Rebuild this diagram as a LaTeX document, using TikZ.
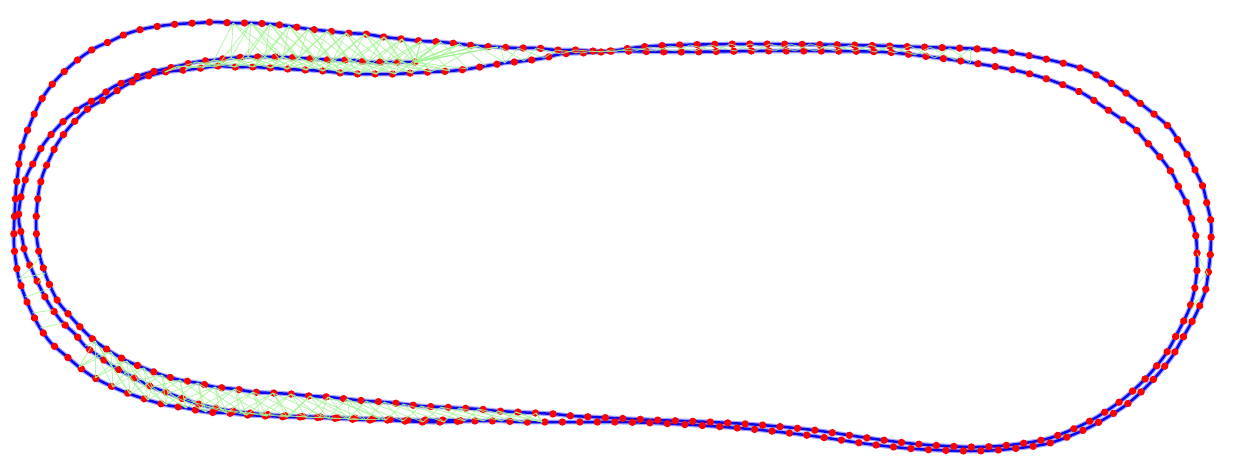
\documentclass[tikz,border=0pt]{standalone}
\usetikzlibrary{decorations.markings}
\definecolor{poseblue}{RGB}{8,8,240}
\definecolor{posered}{RGB}{255,0,0}
\definecolor{loopgreen}{RGB}{165,245,150}
\tikzset{
  trajhalo/.style={draw=poseblue!50, line width=4.8pt, opacity=0.7, line join=round},
  traj/.style={draw=poseblue, line width=2.5pt, line join=round},
  posedots/.style={decorate, decoration={markings, mark=between positions 0 and 1 step 17.5pt with {\fill[posered] (0,0) circle (3.7pt);}}},
  closure/.style={draw=loopgreen, line width=0.85pt, opacity=0.8},
}
\newcommand\namepts[2]{\foreach \p [count=\k] in {#2} {\path \p coordinate (#1-\k);}}
\newcommand\lapA[1]{\path[#1] plot[smooth cycle] coordinates {(611,51) (593,51) (575,50) (556,50) (536,48) (516,48) (498,47) (478,46) (460,44) (441,42) (421,41) (402,39) (384,37) (365,34) (346,33) (327,31) (308,29) (289,26) (270,24) (251,23) (233,23) (214,22) (196,23) (178,24) (160,26) (143,29) (126,34) (111,41) (95,48) (80,58) (67,69) (55,81) (45,94) (37,108) (30,124) (24,140) (20,156) (18,172) (16,189) (15,207) (14,227) (14,245) (16,263) (19,279) (25,297) (32,313) (40,328) (51,343) (65,355) (79,367) (95,378) (113,387) (130,394) (148,400) (166,405) (186,408) (206,412) (227,413) (247,415) (267,416) (287,417) (306,417) (328,418) (348,419) (366,420) (386,420) (403,421) (423,422) (444,422) (465,421) (484,421) (502,421) (522,422) (542,422) (560,422) (579,422) (598,422) (617,422) (655,423) (710,426) (761,430) (813,436) (868,444) (916,449) (971,451) (1010,449) (1050,443) (1090,427) (1126,405) (1151,382) (1171,358) (1185,334) (1196,314) (1205,292) (1208,275) (1210,258) (1211,240) (1211,222) (1207,204) (1203,187) (1196,172) (1188,156) (1179,142) (1169,127) (1145,107) (1117,87) (1086,70) (1050,60) (1014,53) (979,49) (920,47) (850,45) (750,44) (678,45) (640,47)};}
\newcommand\lapB[1]{\path[#1] plot[smooth] coordinates {(415,62) (401,62) (386,62) (368,62) (350,60) (333,60) (316,59) (299,58) (283,57) (265,57) (248,57) (231,58) (214,60) (196,62) (178,66) (160,70) (144,74) (129,80) (113,87) (99,97) (81,107) (67,118) (55,130) (43,145) (35,160) (27,175) (22,192) (19,210) (19,222) (22,237) (25,253) (31,268) (38,283) (45,297) (53,310) (63,323) (75,334) (85,346) (97,355) (111,365) (125,373) (138,380) (152,387) (168,393) (184,399) (202,405) (220,409) (240,412) (260,414) (290,416) (320,417) (350,418) (380,419) (410,420) (440,420) (470,421)};}
\newcommand\lapC[1]{\path[#1] plot[smooth cycle] coordinates {(617,51) (601,52) (581,53) (561,54) (544,58) (524,61) (505,63) (486,66) (468,69) (450,71) (431,72) (412,73) (395,74) (376,74) (359,74) (341,73) (323,71) (306,70) (287,69) (271,68) (253,67) (235,67) (217,66) (202,68) (185,70) (165,72) (145,77) (128,84) (115,92) (103,100) (89,108) (77,119) (67,130) (57,144) (50,158) (43,174) (39,190) (37,207) (36,223) (37,240) (40,257) (45,273) (51,288) (59,303) (71,317) (83,330) (95,341) (111,352) (127,361) (144,368) (162,375) (180,380) (198,383) (215,387) (235,389) (253,392) (273,393) (291,394) (310,396) (328,397) (347,399) (366,401) (384,402) (403,404) (421,406) (441,407) (459,408) (478,409) (498,411) (516,412) (536,413) (554,414) (573,416) (593,417) (613,418) (655,420) (710,422) (761,425) (813,430) (868,438) (916,444) (971,447) (1010,445) (1050,438) (1090,421) (1122,400) (1146,378) (1165,355) (1178,332) (1188,312) (1192,300) (1195,287) (1197,270) (1197,253) (1196,237) (1192,220) (1187,204) (1180,190) (1173,175) (1164,162) (1154,150) (1143,138) (1133,127) (1105,108) (1082,93) (1050,80) (1014,70) (967,62) (931,57) (884,52) (820,51) (750,51) (680,52)};}
\begin{document}
\begin{tikzpicture}[x=1pt,y=-1pt]
\fill[white] (0,0) rectangle (1235,463);
\path[use as bounding box] (0,0) rectangle (1235,463);
% trajectory
\lapA{trajhalo} \lapB{trajhalo} \lapC{trajhalo}
\lapA{traj} \lapB{traj} \lapC{traj}
\lapA{posedots} \lapB{posedots} \lapC{posedots}
% named poses used by loop closures
\namepts{gT1}{(196,23),(214,22),(233,23),(251,23),(270,24),(289,26),(308,29),(327,31),(346,33),(365,34),(384,37),(402,39),(421,41),(441,42),(460,44),(478,46),(498,47),(516,48),(536,48),(556,50)}
\namepts{gT2}{(160,70),(178,66),(196,62),(214,60),(231,58),(248,57),(265,57),(283,57),(299,58),(316,59),(333,60),(350,60),(368,62),(386,62),(401,62),(415,62)}
\namepts{gT3}{(165,72),(185,70),(202,68),(217,66),(235,67),(253,67),(271,68),(287,69),(306,70),(323,71),(341,73),(359,74),(376,74),(395,74),(412,73),(431,72),(450,71),(468,69),(486,66),(505,63),(524,61),(544,58)}
\namepts{gU}{(500,47),(518,48),(536,48),(556,50),(575,50),(593,51),(611,50),(630,48),(650,47),(670,46),(690,45),(710,45),(730,44),(750,44),(770,44),(790,44),(810,44),(830,45),(850,45),(870,45),(890,46),(910,46),(930,47),(950,48),(970,49)}
\namepts{gL}{(505,63),(524,61),(544,58),(561,54),(581,53),(601,52),(617,51),(635,51),(655,51),(675,51),(695,51),(715,51),(735,51),(755,51),(775,51),(795,51),(815,51),(835,51),(855,51),(875,52),(895,53),(915,55),(935,58),(955,60),(970,63)}
\namepts{gB1}{(79,367),(95,378),(113,387),(130,394),(148,400),(166,405),(186,408),(206,412),(227,413),(247,415),(267,416),(287,417),(306,417),(328,418),(348,419),(366,420),(386,420),(403,421),(423,422),(444,422),(465,421),(484,421),(502,421),(522,422),(542,422)}
\namepts{gB2}{(85,346),(97,355),(111,365),(125,373),(138,380),(152,387),(168,393),(184,399),(202,405),(220,409),(240,412),(260,414),(290,416),(320,417),(350,418),(380,419)}
\namepts{gB3}{(83,330),(95,341),(111,352),(127,361),(144,368),(162,375),(180,380),(198,383),(215,387),(235,389),(253,392),(273,393),(291,394),(310,396),(328,397),(347,399),(366,401),(384,402),(403,404),(421,406),(441,407),(459,408),(478,409),(498,411),(516,412),(536,413)}
\coordinate (lf1) at (31,268); \coordinate (lf2) at (40,257);
\coordinate (lf3) at (19,279); \coordinate (lf4) at (45,273);
\coordinate (lf5) at (25,297); \coordinate (lf6) at (51,288);
\coordinate (lf7) at (38,283); \coordinate (lf8) at (40,328);
\coordinate (lf9) at (63,323); \coordinate (lf10) at (32,313);
\coordinate (lf11) at (53,310);
\coordinate (rt1) at (1197,253); \coordinate (rt2) at (1208,275);
\coordinate (rt3) at (1197,285); \coordinate (rt4) at (1207,272);
\coordinate (rt5) at (1193,307); \coordinate (rt6) at (1203,293);
\coordinate (rt7) at (1188,318); \coordinate (rt8) at (1196,300);
% loop closures
\foreach \i in {3,...,17}{\foreach \d in {-1,0,2,3}{
  \pgfmathtruncatemacro\jx{max(1,min(16,(18+18*\i)/17+1+(\d)))}
  \draw[closure] (gT1-\i) -- (gT2-\jx);}}
\foreach \i in {4,...,16}{\foreach \d in {-2,2}{
  \pgfmathtruncatemacro\jx{max(1,min(22,(13+18*\i)/17+1+(\d)))}
  \draw[closure] (gT1-\i) -- (gT3-\jx);}}
\foreach \i in {2,...,16}{\foreach \d in {-2,-1,1,2}{
  \pgfmathtruncatemacro\jx{max(1,min(22,\i+(\d)))}
  \draw[closure] (gT2-\i) -- (gT3-\jx);}}
\foreach \i in {1,...,25}{\foreach \d in {-1,1}{
  \pgfmathtruncatemacro\jx{max(1,min(25,\i+(\d)))}
  \draw[closure] (gU-\i) -- (gL-\jx);}}
\foreach \i in {2,...,26}{\foreach \d in {-2,0,2}{
  \pgfmathtruncatemacro\jx{max(1,min(25,\i+(\d)))}
  \draw[closure] (gB3-\i) -- (gB1-\jx);}}
\foreach \i in {2,...,16}{\foreach \d in {-1,1}{
  \pgfmathtruncatemacro\jx{max(1,min(16,\i+(\d)))}
  \draw[closure] (gB3-\i) -- (gB2-\jx);
  \pgfmathtruncatemacro\jx{max(1,min(25,\i+(\d)))}
  \draw[closure] (gB2-\i) -- (gB1-\jx);}}
\draw[closure] (lf1) -- (lf2);
\draw[closure] (lf3) -- (lf4);
\draw[closure] (lf5) -- (lf6);
\draw[closure] (lf7) -- (lf4);
\draw[closure] (lf3) -- (lf1);
\draw[closure] (lf8) -- (lf9);
\draw[closure] (lf10) -- (lf11);
\draw[closure] (rt1) -- (rt2);
\draw[closure] (rt3) -- (rt4);
\draw[closure] (rt5) -- (rt6);
\draw[closure] (rt7) -- (rt8);
\end{tikzpicture}
\end{document}
